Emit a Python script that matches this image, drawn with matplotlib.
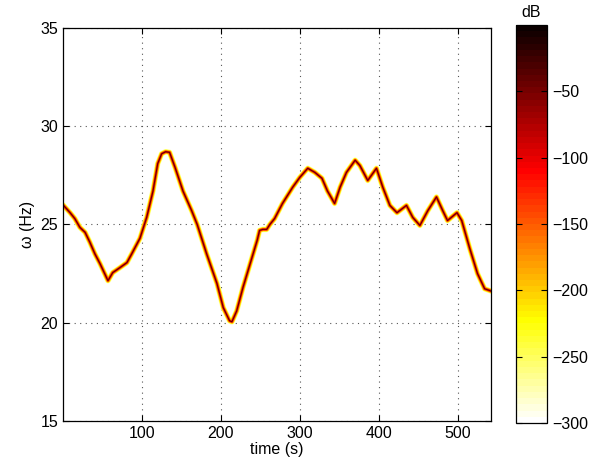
import numpy as np
import matplotlib
matplotlib.use('Agg')
from matplotlib import pyplot as plt
from matplotlib import colors, cm

plt.rcParams['font.family'] = ['Liberation Sans', 'DejaVu Sans']
plt.rcParams['font.size'] = 11.5

# ridge of the time-frequency map
time_s = [0, 9, 15, 21.5, 28, 34, 40.5, 47, 57, 63, 72, 81, 87, 97.5, 106, 114,
          120, 125, 130, 135, 142, 152, 163, 170, 182, 195, 203, 211, 214, 220,
          228, 237, 246, 249, 253, 258, 262, 268, 278, 291, 300, 310, 319, 328,
          335, 344, 351, 359, 370, 376, 386, 397, 405, 414, 423, 435, 443, 452,
          462, 473, 481, 487, 499, 505, 515, 525, 534, 543]
freq_hz = [26.0, 25.6, 25.3, 24.85, 24.6, 24.1, 23.5, 23.0, 22.14, 22.55, 22.8,
           23.06, 23.5, 24.3, 25.36, 26.7, 28.1, 28.6, 28.7, 28.67, 27.9, 26.7,
           25.7, 25.0, 23.5, 22.0, 20.77, 20.1, 20.05, 20.6, 21.8, 23.0, 24.2,
           24.7, 24.75, 24.75, 25.0, 25.3, 26.07, 26.9, 27.4, 27.86, 27.65,
           27.35, 26.7, 26.07, 26.9, 27.65, 28.27, 28.0, 27.24, 27.86, 26.9,
           25.97, 25.6, 25.97, 25.36, 24.95, 25.7, 26.4, 25.7, 25.2, 25.6, 25.2,
           23.8, 22.5, 21.73, 21.6]

# level (dB) of each layer of the ridge, from its edge to its centre
layer_db = [-270, -225, -180, -120, -40]
layer_width = [4.0, 3.2, 2.5, 1.7, 0.8]

db_min, db_max = -300, 0
cbar_ticks = [-300, -250, -200, -150, -100, -50]

cmap = plt.get_cmap('hot_r', 64)
norm = colors.Normalize(vmin=db_min, vmax=db_max)

fig = plt.figure(figsize=(5.94, 4.74), dpi=100)
ax = fig.add_axes([0.106, 0.1118, 0.7205, 0.8292])
cax = fig.add_axes([0.8687, 0.1076, 0.0522, 0.8397])

for db, lw in zip(layer_db, layer_width):
    ax.plot(time_s, freq_hz, color=cmap(norm(db)), lw=lw,
            solid_capstyle='round', solid_joinstyle='round')

ax.set_xlim(0, 542)
ax.set_ylim(15, 35)
ax.set_xticks([100, 200, 300, 400, 500])
ax.set_yticks([15, 20, 25, 30, 35])
ax.set_xlabel('time (s)', labelpad=1)
ax.set_ylabel('ω (Hz)', labelpad=4)
ax.grid(True, linestyle=(0, (1, 4)), color='#555555', linewidth=0.8)
ax.tick_params(direction='in', top=True, right=True, length=4, width=0.8)
for sp in ax.spines.values():
    sp.set_linewidth(0.9)

sm = cm.ScalarMappable(norm=norm, cmap=cmap)
cb = fig.colorbar(sm, cax=cax, ticks=cbar_ticks)
cb.outline.set_linewidth(0.9)
cax.tick_params(direction='in', left=True, right=True, length=4, width=0.8)
cax.set_title('dB', fontsize=11.5, pad=6)

fig.savefig('out.png', dpi=100)
